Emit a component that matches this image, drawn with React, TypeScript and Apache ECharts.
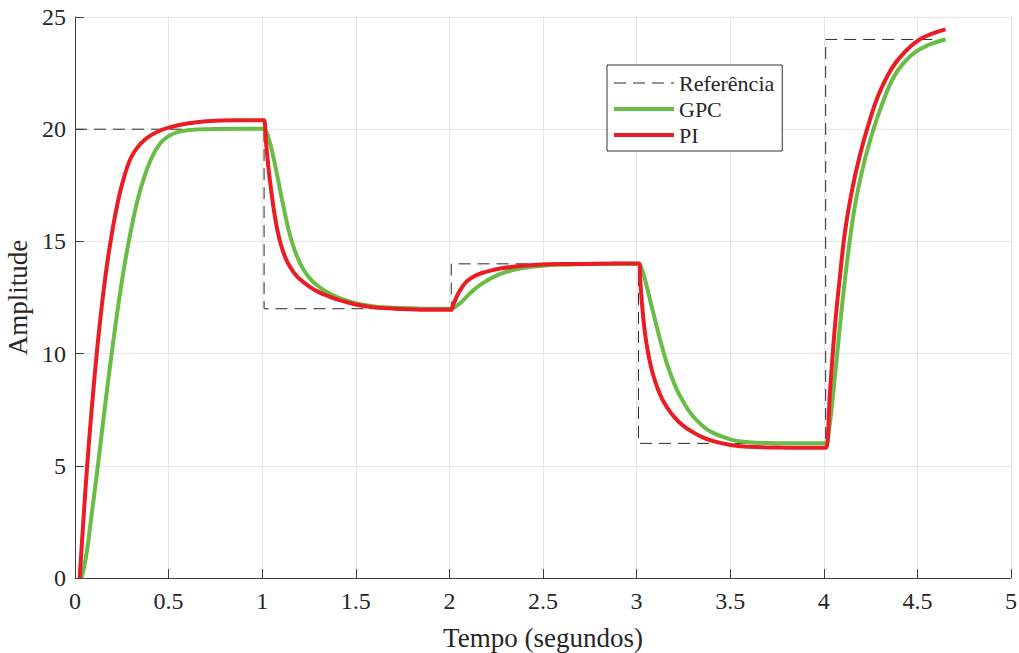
import React, { useEffect, useRef } from "react";
import * as echarts from "echarts";

// Reference signal (step setpoint)
const refPoints: [number, number][] = [
  [0, 20], [1.01, 20], [1.01, 12], [2.01, 12], [2.01, 14], [3.01, 14],
  [3.01, 6], [4.01, 6], [4.01, 24], [4.65, 24],
];

// GPC response
const gpcPoints: [number, number][] = [
  [0.035, 0], [0.06, 1.0], [0.09, 2.9], [0.125, 5.2], [0.155, 7.3], [0.185, 9.3],
  [0.215, 11.2], [0.25, 13.2], [0.285, 14.9], [0.33, 16.7], [0.375, 18.0],
  [0.42, 18.9], [0.47, 19.5], [0.53, 19.82], [0.6, 19.95], [0.7, 20.0],
  [0.9, 20.02], [1.0, 20.02], [1.01, 20.02],
  [1.02, 19.92], [1.03, 19.72], [1.045, 19.28], [1.06, 18.75], [1.08, 17.95],
  [1.1, 17.1], [1.12, 16.3], [1.14, 15.55], [1.16, 14.95], [1.19, 14.25],
  [1.22, 13.75], [1.26, 13.3], [1.3, 13.0], [1.35, 12.72], [1.4, 12.52],
  [1.5, 12.25], [1.6, 12.1], [1.75, 12.03], [1.9, 12.0], [2.0, 12.0], [2.01, 12.0],
  [2.03, 12.08], [2.057, 12.24], [2.085, 12.47], [2.11, 12.69], [2.14, 12.9],
  [2.17, 13.1], [2.2, 13.25], [2.24, 13.43], [2.28, 13.57], [2.33, 13.7],
  [2.4, 13.83], [2.5, 13.92], [2.6, 13.96], [2.8, 14.0], [3.0, 14.0], [3.013, 14.0],
  [3.025, 13.82], [3.04, 13.45], [3.06, 12.8], [3.08, 12.12], [3.1, 11.45],
  [3.12, 10.8], [3.14, 10.18], [3.16, 9.6], [3.19, 8.9], [3.22, 8.3],
  [3.26, 7.7], [3.3, 7.22], [3.35, 6.8], [3.4, 6.5], [3.5, 6.18], [3.6, 6.05],
  [3.75, 6.01], [3.9, 6.0], [4.0, 6.0], [4.013, 6.0],
  [4.025, 6.45], [4.042, 7.56], [4.069, 9.79], [4.096, 12.02], [4.131, 14.54],
  [4.167, 16.62], [4.212, 18.4], [4.256, 19.74], [4.31, 21.08], [4.38, 22.42],
  [4.469, 23.31], [4.558, 23.75], [4.65, 24.0],
];

// PI response
const piPoints: [number, number][] = [
  [0.025, 0], [0.045, 2.6], [0.065, 5.0], [0.09, 7.6], [0.115, 9.9], [0.14, 11.9],
  [0.17, 13.9], [0.2, 15.5], [0.23, 16.8], [0.26, 17.8], [0.3, 18.75],
  [0.35, 19.35], [0.4, 19.7], [0.45, 19.92], [0.5, 20.07], [0.6, 20.25],
  [0.7, 20.35], [0.85, 20.4], [1.0, 20.4], [1.01, 20.4],
  [1.02, 19.45], [1.035, 18.15], [1.05, 17.15], [1.065, 16.25], [1.08, 15.55],
  [1.1, 14.85], [1.125, 14.25], [1.15, 13.85], [1.175, 13.55], [1.2, 13.32],
  [1.25, 13.0], [1.3, 12.75], [1.35, 12.57], [1.4, 12.42], [1.5, 12.19],
  [1.6, 12.06], [1.75, 11.99], [1.9, 11.95], [2.0, 11.95], [2.01, 11.95],
  [2.02, 12.17], [2.03, 12.37], [2.045, 12.64], [2.06, 12.86], [2.08, 13.1],
  [2.1, 13.27], [2.13, 13.44], [2.17, 13.58], [2.22, 13.7], [2.28, 13.8],
  [2.35, 13.88], [2.45, 13.95], [2.6, 13.99], [2.8, 14.0], [3.0, 14.02], [3.013, 14.02],
  [3.02, 13.2], [3.03, 12.1], [3.045, 10.9], [3.06, 10.1], [3.075, 9.48],
  [3.09, 9.0], [3.11, 8.5], [3.135, 8.0], [3.16, 7.64], [3.2, 7.18],
  [3.25, 6.78], [3.3, 6.5], [3.35, 6.28], [3.4, 6.12], [3.5, 5.93], [3.6, 5.85],
  [3.75, 5.81], [3.9, 5.8], [4.0, 5.8], [4.013, 5.8],
  [4.033, 8.3], [4.06, 11.27], [4.087, 13.5], [4.113, 15.43], [4.149, 17.21],
  [4.193, 18.85], [4.238, 20.19], [4.292, 21.52], [4.363, 22.71], [4.434, 23.45],
  [4.523, 24.05], [4.65, 24.45],
];

const seriesNames = ["Referência", "GPC", "PI"];
const xAxisName = "Tempo (segundos)";
const yAxisName = "Amplitude";

const FONT = "'Liberation Serif', 'Times New Roman', serif";
const TEXT = "#262626";
const AXIS = "#404040";
const GRID = "#e6e6e6";

export default function App() {
  const ref = useRef<HTMLDivElement>(null);
  useEffect(() => {
    if (!ref.current) return;
    const chart = echarts.init(ref.current, undefined, { renderer: "svg" });
    chart.setOption({
      animation: false,
      backgroundColor: "#ffffff",
      textStyle: { fontFamily: FONT },
      grid: {
        left: 75, right: 8, top: 17, bottom: 75,
        containLabel: false, outerBoundsMode: "none",
      },
      legend: {
        orient: "vertical",
        left: 607,
        top: 65,
        padding: [7, 8, 5, 5],
        itemGap: 4,
        itemWidth: 60,
        itemHeight: 14,
        backgroundColor: "#ffffff",
        borderColor: "#333333",
        borderWidth: 1,
        borderRadius: 0,
        itemStyle: { opacity: 0 },
        textStyle: { fontFamily: FONT, fontSize: 22, color: TEXT, lineHeight: 22 },
        data: [
          { name: seriesNames[0], lineStyle: { width: 1, type: [12, 7] } },
          { name: seriesNames[1], lineStyle: { width: 4 } },
          { name: seriesNames[2], lineStyle: { width: 4 } },
        ],
      },
      xAxis: {
        type: "value",
        min: 0,
        max: 5,
        interval: 0.5,
        name: xAxisName,
        nameLocation: "middle",
        nameGap: 46,
        nameTextStyle: { fontFamily: FONT, fontSize: 27, color: TEXT },
        axisLine: { show: true, lineStyle: { color: AXIS, width: 1 } },
        axisTick: { show: true, inside: true, length: 9, lineStyle: { color: AXIS } },
        axisLabel: { fontFamily: FONT, fontSize: 24, color: TEXT, margin: 11 },
        splitLine: { show: true, lineStyle: { color: GRID, width: 1 } },
      },
      yAxis: {
        type: "value",
        min: 0,
        max: 25,
        interval: 5,
        name: yAxisName,
        nameLocation: "middle",
        nameGap: 42,
        nameRotate: 90,
        nameTextStyle: { fontFamily: FONT, fontSize: 27, color: TEXT },
        axisLine: { show: true, lineStyle: { color: AXIS, width: 1 } },
        axisTick: { show: true, inside: true, length: 9, lineStyle: { color: AXIS } },
        axisLabel: { fontFamily: FONT, fontSize: 24, color: TEXT, margin: 9 },
        splitLine: { show: true, lineStyle: { color: GRID, width: 1 } },
      },
      series: [
        {
          name: seriesNames[0],
          type: "line",
          data: refPoints,
          showSymbol: false,
          symbol: "none",
          color: "#2a2a2a",
          lineStyle: { color: "#2a2a2a", width: 1, type: [12, 7] },
          z: 1,
        },
        {
          name: seriesNames[1],
          type: "line",
          data: gpcPoints,
          showSymbol: false,
          symbol: "none",
          smooth: 0.4,
          color: "#67bd45",
          lineStyle: { color: "#67bd45", width: 4 },
          z: 2,
        },
        {
          name: seriesNames[2],
          type: "line",
          data: piPoints,
          showSymbol: false,
          symbol: "none",
          smooth: 0.4,
          color: "#ec1c24",
          lineStyle: { color: "#ec1c24", width: 4 },
          z: 3,
        },
      ],
    });
    return () => chart.dispose();
  }, []);
  return (
    <div
      ref={ref}
      style={{ position: "fixed", left: 0, top: 0, width: 1019, height: 653, background: "#fff" }}
    />
  );
}
